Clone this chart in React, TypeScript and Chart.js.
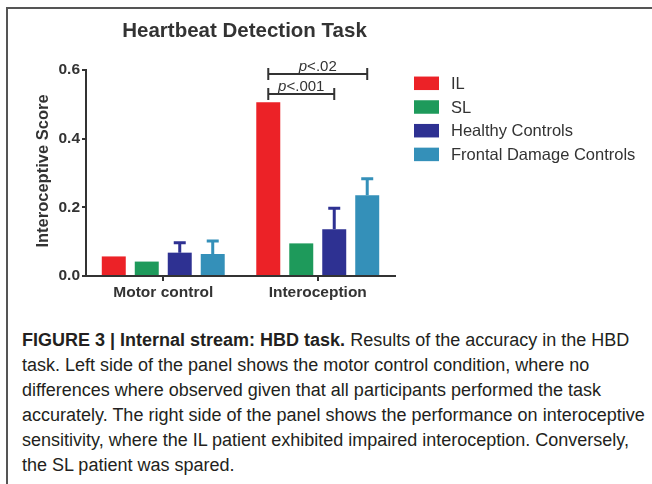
import React, { useEffect, useRef } from 'react';
import { Chart, registerables } from 'chart.js';

Chart.register(...registerables);

const FONT = '"Liberation Sans", Arial, Helvetica, sans-serif';

const chartTitle = 'Heartbeat Detection Task';
const yAxisTitle = 'Interoceptive Score';
const categories = ['Motor control', 'Interoception'];
const seriesNames = ['IL', 'SL', 'Healthy Controls', 'Frontal Damage Controls'];
const seriesColors = ['#EC2227', '#1E9A5B', '#2E3192', '#3490B9'];

const ilValues = [0.057, 0.506];
const slValues = [0.042, 0.095];
const hcValues = [0.068, 0.136];
const fdcValues = [0.064, 0.235];

const ilErrors = [0, 0];
const slErrors = [0, 0];
const hcErrors = [0.029, 0.061];
const fdcErrors = [0.038, 0.048];

const yTicks = [0, 0.2, 0.4, 0.6];

// significance brackets (within category index bracketCategory)
const bracketCategory = 1;
const bracketLabels = ['<.02', '<.001'];
const bracketFrom = [0, 0];
const bracketTo = [3, 2];
const bracketLevels = [0.588, 0.53];

const captionBold = 'FIGURE 3 | Internal stream: HBD task.';
const captionLines = [
  ' Results of the accuracy in the HBD',
  'task. Left side of the panel shows the motor control condition, where no',
  'differences where observed given that all participants performed the task',
  'accurately. The right side of the panel shows the performance on interoceptive',
  'sensitivity, where the IL patient exhibited impaired interoception. Conversely,',
  'the SL patient was spared.',
];

const seriesValues = [ilValues, slValues, hcValues, fdcValues];
const seriesErrors = [ilErrors, slErrors, hcErrors, fdcErrors];

const overlayPlugin = {
  id: 'overlay',
  afterDatasetsDraw(chart: any) {
    const ctx = chart.ctx as CanvasRenderingContext2D;
    const ys = chart.scales.y;
    const area = chart.chartArea;

    // error bars (upper only)
    chart.data.datasets.forEach((ds: any, di: number) => {
      const meta = chart.getDatasetMeta(di);
      const errs = seriesErrors[di];
      meta.data.forEach((el: any, i: number) => {
        const e = errs[i];
        if (!e) return;
        const yT = ys.getPixelForValue(ds.data[i] + e);
        ctx.save();
        ctx.strokeStyle = ds.backgroundColor;
        ctx.lineWidth = 3;
        ctx.beginPath();
        ctx.moveTo(el.x, el.y);
        ctx.lineTo(el.x, yT);
        ctx.moveTo(el.x - 6, yT);
        ctx.lineTo(el.x + 6, yT);
        ctx.stroke();
        ctx.restore();
      });
    });

    // significance brackets
    bracketLevels.forEach((lvl, k) => {
      const a = chart.getDatasetMeta(bracketFrom[k]).data[bracketCategory];
      const b = chart.getDatasetMeta(bracketTo[k]).data[bracketCategory];
      const ly = ys.getPixelForValue(lvl);
      ctx.save();
      ctx.strokeStyle = '#333';
      ctx.lineWidth = 2;
      ctx.beginPath();
      ctx.moveTo(a.x, ly);
      ctx.lineTo(b.x, ly);
      ctx.moveTo(a.x, ly - 6);
      ctx.lineTo(a.x, ly + 6);
      ctx.moveTo(b.x, ly - 6);
      ctx.lineTo(b.x, ly + 6);
      ctx.stroke();
      const italic = `italic 15px ${FONT}`;
      const normal = `15px ${FONT}`;
      ctx.font = italic;
      const wp = ctx.measureText('p').width;
      ctx.font = normal;
      const wr = ctx.measureText(bracketLabels[k]).width;
      const mid = (a.x + b.x) / 2;
      const sx = mid - (wp + wr) / 2;
      ctx.fillStyle = '#333';
      ctx.textBaseline = 'alphabetic';
      ctx.textAlign = 'left';
      ctx.font = italic;
      ctx.fillText('p', sx, ly - 3);
      ctx.font = normal;
      ctx.fillText(bracketLabels[k], sx + wp, ly - 3);
      ctx.restore();
    });

    // title
    ctx.save();
    ctx.fillStyle = '#333';
    ctx.font = `bold 20.5px ${FONT}`;
    ctx.textAlign = 'center';
    ctx.textBaseline = 'middle';
    ctx.fillText(chartTitle, (area.left + area.right) / 2 + 4, 31);
    ctx.restore();

    // y axis title
    ctx.save();
    ctx.fillStyle = '#333';
    ctx.font = `bold 16.5px ${FONT}`;
    ctx.textAlign = 'center';
    ctx.textBaseline = 'middle';
    ctx.translate(43, (area.top + area.bottom) / 2 - 2);
    ctx.rotate(-Math.PI / 2);
    ctx.fillText(yAxisTitle, 0, 0);
    ctx.restore();

    // legend
    ctx.save();
    chart.data.datasets.forEach((ds: any, i: number) => {
      const cy = 83.3 + i * 23.7;
      ctx.fillStyle = ds.backgroundColor;
      ctx.fillRect(414, cy - 6.75, 25, 13.5);
      ctx.fillStyle = '#333';
      ctx.font = `16.5px ${FONT}`;
      ctx.textAlign = 'left';
      ctx.textBaseline = 'middle';
      ctx.fillText(ds.label, 451, cy + 1);
    });
    ctx.restore();
  },
};

export default function App() {
  const canvasRef = useRef<HTMLCanvasElement | null>(null);

  useEffect(() => {
    if (!canvasRef.current) return;
    const chart = new Chart(canvasRef.current, {
      type: 'bar',
      data: {
        labels: categories,
        datasets: seriesNames.map((name, i) => ({
          label: name,
          data: seriesValues[i],
          backgroundColor: seriesColors[i],
          borderWidth: 0,
          categoryPercentage: 0.854,
          barPercentage: 0.727,
        })),
      },
      options: {
        animation: false,
        responsive: false,
        maintainAspectRatio: false,
        devicePixelRatio: 1,
        layout: { padding: { left: 0, right: 257, top: 70, bottom: 0 } },
        plugins: {
          legend: { display: false },
          title: { display: false },
          tooltip: { enabled: false },
        },
        scales: {
          x: {
            type: 'category',
            offset: true,
            grid: {
              display: true,
              drawOnChartArea: false,
              drawTicks: true,
              tickLength: 5,
              offset: false,
              color: '#333',
              lineWidth: 2,
            },
            border: { display: true, color: '#333', width: 2 },
            ticks: {
              color: '#333',
              padding: 2,
              font: { family: FONT, size: 15.5, weight: 'bold' },
            },
            afterFit: (s: any) => {
              s.height = 34;
            },
          },
          y: {
            min: 0,
            max: 0.6,
            afterBuildTicks: (s: any) => {
              s.ticks = yTicks.map((v) => ({ value: v }));
            },
            grid: {
              display: true,
              drawOnChartArea: false,
              drawTicks: true,
              tickLength: 4,
              color: '#333',
              lineWidth: 2,
            },
            border: { display: true, color: '#333', width: 2 },
            ticks: {
              color: '#333',
              padding: 2,
              font: { family: FONT, size: 15.5, weight: 'bold' },
              callback: (v: any) => Number(v).toFixed(1),
            },
            afterFit: (s: any) => {
              s.width = 86;
            },
          },
        },
      } as any,
      plugins: [overlayPlugin],
    });
    return () => chart.destroy();
  }, []);

  return (
    <div
      style={{
        position: 'fixed',
        left: 0,
        top: 0,
        width: 652,
        height: 484,
        background: '#fff',
        overflow: 'hidden',
        fontFamily: FONT,
      }}
    >
      <div
        style={{
          position: 'absolute',
          left: 6,
          top: 7,
          width: 700,
          height: 600,
          borderTop: '2px solid #555',
          borderLeft: '2px solid #555',
        }}
      />
      <canvas
        ref={canvasRef}
        width={652}
        height={310}
        style={{ position: 'absolute', left: 0, top: 0, width: 652, height: 310, display: 'block' }}
      />
      <div
        style={{
          position: 'absolute',
          left: 22,
          top: 328,
          fontSize: 18,
          lineHeight: '25px',
          color: '#231f20',
          whiteSpace: 'nowrap',
        }}
      >
        <div>
          <b>{captionBold}</b>
          {captionLines[0]}
        </div>
        {captionLines.slice(1).map((l, i) => (
          <div key={i}>{l}</div>
        ))}
      </div>
    </div>
  );
}
